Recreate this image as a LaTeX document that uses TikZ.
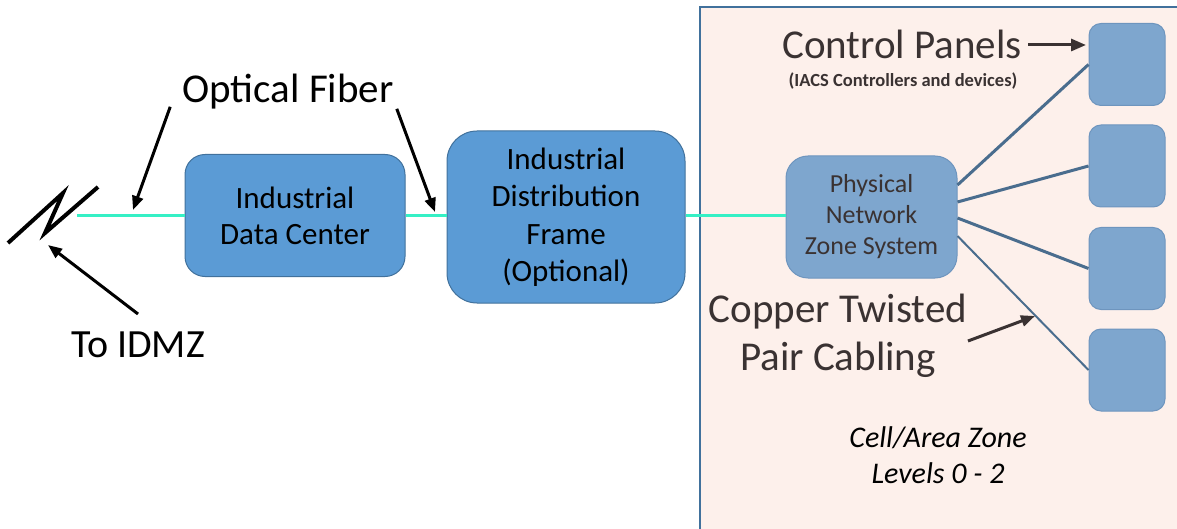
\documentclass[tikz,border=0pt]{standalone}
\usepackage{fontspec}
\setmainfont{Carlito}
\usetikzlibrary{arrows.meta}

\definecolor{boxblue}{HTML}{5B9BD5}
\definecolor{boxedge}{HTML}{41719C}
\definecolor{zoneblue}{HTML}{7EA6CE}
\definecolor{zoneedge}{HTML}{6E95BE}
\definecolor{zonefill}{HTML}{FDF0EB}
\definecolor{fiber}{HTML}{35F0C5}
\definecolor{copper}{HTML}{4A6D8E}
\definecolor{darktext}{HTML}{3A3232}

\begin{document}
\begin{tikzpicture}[x=1pt,y=-1pt,
        bigbox/.style={draw=boxedge,fill=boxblue,line width=1pt,align=center,inner sep=2pt},
        panel/.style={draw=zoneedge,fill=zoneblue,line width=1pt,rounded corners=12pt,minimum width=76pt,minimum height=82pt},
        label/.style={inner sep=0pt,anchor=base,align=center},
        fiberline/.style={fiber,line width=3.5pt},
        cable/.style={copper,line width=3pt},
        arr/.style={-{Triangle[length=14pt,width=11pt]},line width=3pt}]
        \useasboundingbox (0,0) rectangle (1177,529);
        % cell/area zone
        \fill[zonefill] (700,7) rectangle (1177,529);
        \draw[boxedge,line width=1.2pt] (1177,7) -- (700,7) -- (700,529);
        % boxes
        \node [bigbox,rounded corners=20pt,minimum width=220pt,minimum height=122pt,font=\fontsize{31}{36}\selectfont] (dc) at (295,215.5) {Industrial\\Data Center};
        \node [bigbox,rounded corners=30pt,minimum width=238pt,minimum height=172pt,font=\fontsize{31}{37.5}\selectfont] (idf) at (566,217) {Industrial\\Distribution\\Frame\\(Optional)};
        \node [bigbox,draw=zoneedge,fill=zoneblue,text=darktext,rounded corners=22pt,minimum width=171pt,minimum height=122pt,font=\fontsize{26}{31}\selectfont] (pnzs) at (871.5,217) {Physical\\Network\\Zone System};
        \node [panel] (cp1) at (1127,64.5) {};
        \node [panel] (cp2) at (1127,166) {};
        \node [panel] (cp3) at (1127,268.5) {};
        \node [panel] (cp4) at (1127,370) {};
        % labels (multi-line ones sit on their last line)
        \node [label,font=\fontsize{41}{50}\selectfont] (optical) at (288,103) {Optical Fiber};
        \node [label,font=\fontsize{40}{48}\selectfont] (idmz) at (138,357) {To IDMZ};
        \node [label,text=darktext,font=\fontsize{41}{50}\selectfont] (panels) at (902,59) {Control Panels};
        \node [label,text=darktext,font=\bfseries\fontsize{18.5}{20}\selectfont] (iacs) at (903,87) {(IACS Controllers and devices)};
        \node [label,text=darktext,font=\fontsize{41}{48}\selectfont] (copperlbl) at (838,370) {Copper Twisted\\Pair Cabling};
        \node [label,font=\itshape\fontsize{30}{36}\selectfont] (zone) at (938,483) {Cell/Area Zone\\Levels 0 - 2};
        % free ends
        \coordinate (fib0) at (77,215.5);
        \coordinate (fibtip1) at (133,210);
        \coordinate (fibtip2) at (435,212);
        \coordinate (brktip) at (48,245);
        \coordinate (brkfoot) at (138,314);
        \coordinate (cpfoot) at (1028,45);
        \coordinate (cptip) at (1086,45);
        \coordinate (cabfoot) at (968,341);
        \coordinate (cabtip) at (1035,316);
        % optical fiber
        \draw[fiberline] (fib0) -- (dc.west);
        \draw[fiberline] (dc.east) -- (idf.west |- dc.east);
        \draw[fiberline] (idf.east |- dc.east) -- (pnzs.west |- dc.east);
        % break symbol
        \draw[line width=4pt] (8,243) -- (63,193) -- (45,233) -- (98,187);
        % copper cabling
        \draw[cable] ([yshift=32pt]pnzs.east) -- (cp1.west);
        \draw[cable] ([yshift=15pt]pnzs.east) -- (cp2.west);
        \draw[cable] ([yshift=-1pt]pnzs.east) -- (cp3.west);
        \draw[cable,line width=2pt] ([yshift=-19pt]pnzs.east) -- (cp4.west);
        % arrows
        \draw[arr] ([xshift=-12pt,yshift=3pt]optical.south west) -- (fibtip1);
        \draw[arr] ([xshift=3pt,yshift=1pt]optical.south east) -- (fibtip2);
        \draw[arr] (brkfoot) -- (brktip);
        \draw[arr,darktext,-{Triangle[length=15pt,width=12pt]}] (cpfoot) -- (cptip);
        \draw[arr,darktext] (cabfoot) -- (cabtip);
        \end{tikzpicture}
\end{document}
